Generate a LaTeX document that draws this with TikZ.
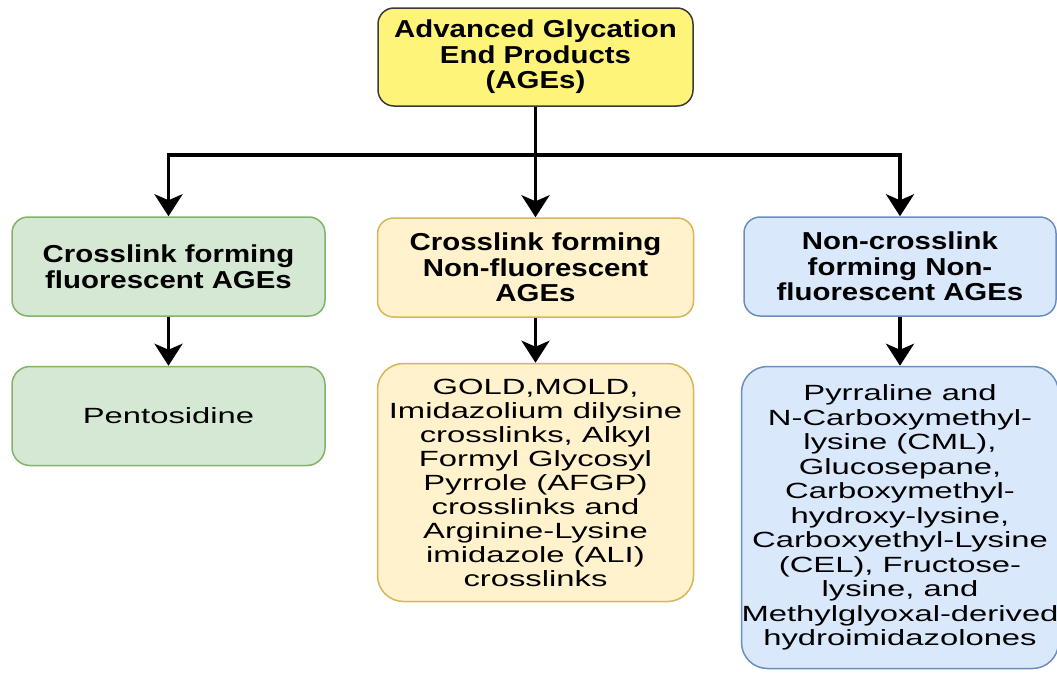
\documentclass[tikz,border=0pt]{standalone}
\usepackage{fontspec}
\usepackage{tikz}
\usetikzlibrary{positioning,arrows.meta}
\newfontfamily\headfont{Liberation Sans}[FakeStretch=1.2]
\newfontfamily\leaffont{Liberation Sans}[FakeStretch=1.49]
\definecolor{agefill}{HTML}{FFF47A}
\definecolor{ageline}{HTML}{3A3A3A}
\definecolor{grnfill}{HTML}{D5E8D4}
\definecolor{grnline}{HTML}{82B366}
\definecolor{ylwfill}{HTML}{FFF2CC}
\definecolor{ylwline}{HTML}{D6B656}
\definecolor{blufill}{HTML}{DAE8FC}
\definecolor{bluline}{HTML}{6C8EBF}

\begin{document}
\begin{tikzpicture}[x=1pt, y=1pt,
  box/.style={rounded corners=16pt, line width=1.5pt, align=center, inner sep=0pt, text=black},
  head/.style={box, minimum width=313pt, minimum height=99pt,
               font=\headfont\bfseries\fontsize{24.5}{25.5}\selectfont},
  leaf/.style={box, rounded corners=26pt, font=\leaffont\fontsize{22}{24}\selectfont},
  arr/.style={line width=3.5pt, -{Stealth[length=22pt, width=28pt, inset=6pt]}}
]
  \useasboundingbox (0,0) rectangle (1057,-672);

  \node[head, draw=ageline, fill=agefill, minimum width=315pt, minimum height=98pt] (age) at (535.5,-57)
    {Advanced Glycation\\ End Products\\ (AGEs)};

  \node[head, draw=grnline, fill=grnfill] (fl) at (168.5,-266.5) {Crosslink forming\\ fluorescent AGEs};
  \node[head, draw=ylwline, fill=ylwfill, minimum width=316pt] (nfl) at (535.5,-267.5)
    {Crosslink forming\\ Non-fluorescent\\ AGEs};
  \node[head, draw=bluline, fill=blufill, minimum width=312pt] (ncl) at (900,-266.5)
    {Non-crosslink\\ forming Non-\\ fluorescent AGEs};

  \node[leaf, draw=grnline, fill=grnfill, rounded corners=18pt, minimum width=313pt, minimum height=99pt,
        below=49pt of fl] (pent) {Pentosidine};
  \node[leaf, draw=ylwline, fill=ylwfill, minimum width=316pt, minimum height=238pt,
        below=45pt of nfl] (gold)
    {GOLD,MOLD,\\ Imidazolium dilysine\\ crosslinks, Alkyl\\ Formyl Glycosyl\\ Pyrrole (AFGP)\\
     crosslinks and\\ Arginine-Lysine\\ imidazole (ALI)\\ crosslinks};
  \node[leaf, draw=bluline, fill=blufill, minimum width=314pt, minimum height=302pt,
        font=\leaffont\fontsize{22}{24.5}\selectfont, below=49pt of ncl] (pyrr)
    {Pyrraline and\\ N-Carboxymethyl-\\ lysine (CML),\\ Glucosepane,\\ Carboxymethyl-\\
     hydroxy-lysine,\\ Carboxyethyl-Lysine\\ (CEL), Fructose-\\ lysine, and\\
     Methylglyoxal-derived\\ hydroimidazolones};

  \coordinate (split) at (535.5,-155);
  \draw[line width=3.5pt] (age.south) -- (split);
  \draw[arr] (split) -| (fl.north);
  \draw[arr] (split) -- (nfl.north);
  \draw[arr] (split) -| (ncl.north);
  \draw[arr] (fl) -- (pent);
  \draw[arr] (nfl) -- (gold);
  \draw[arr] (ncl) -- (pyrr);
\end{tikzpicture}
\end{document}
